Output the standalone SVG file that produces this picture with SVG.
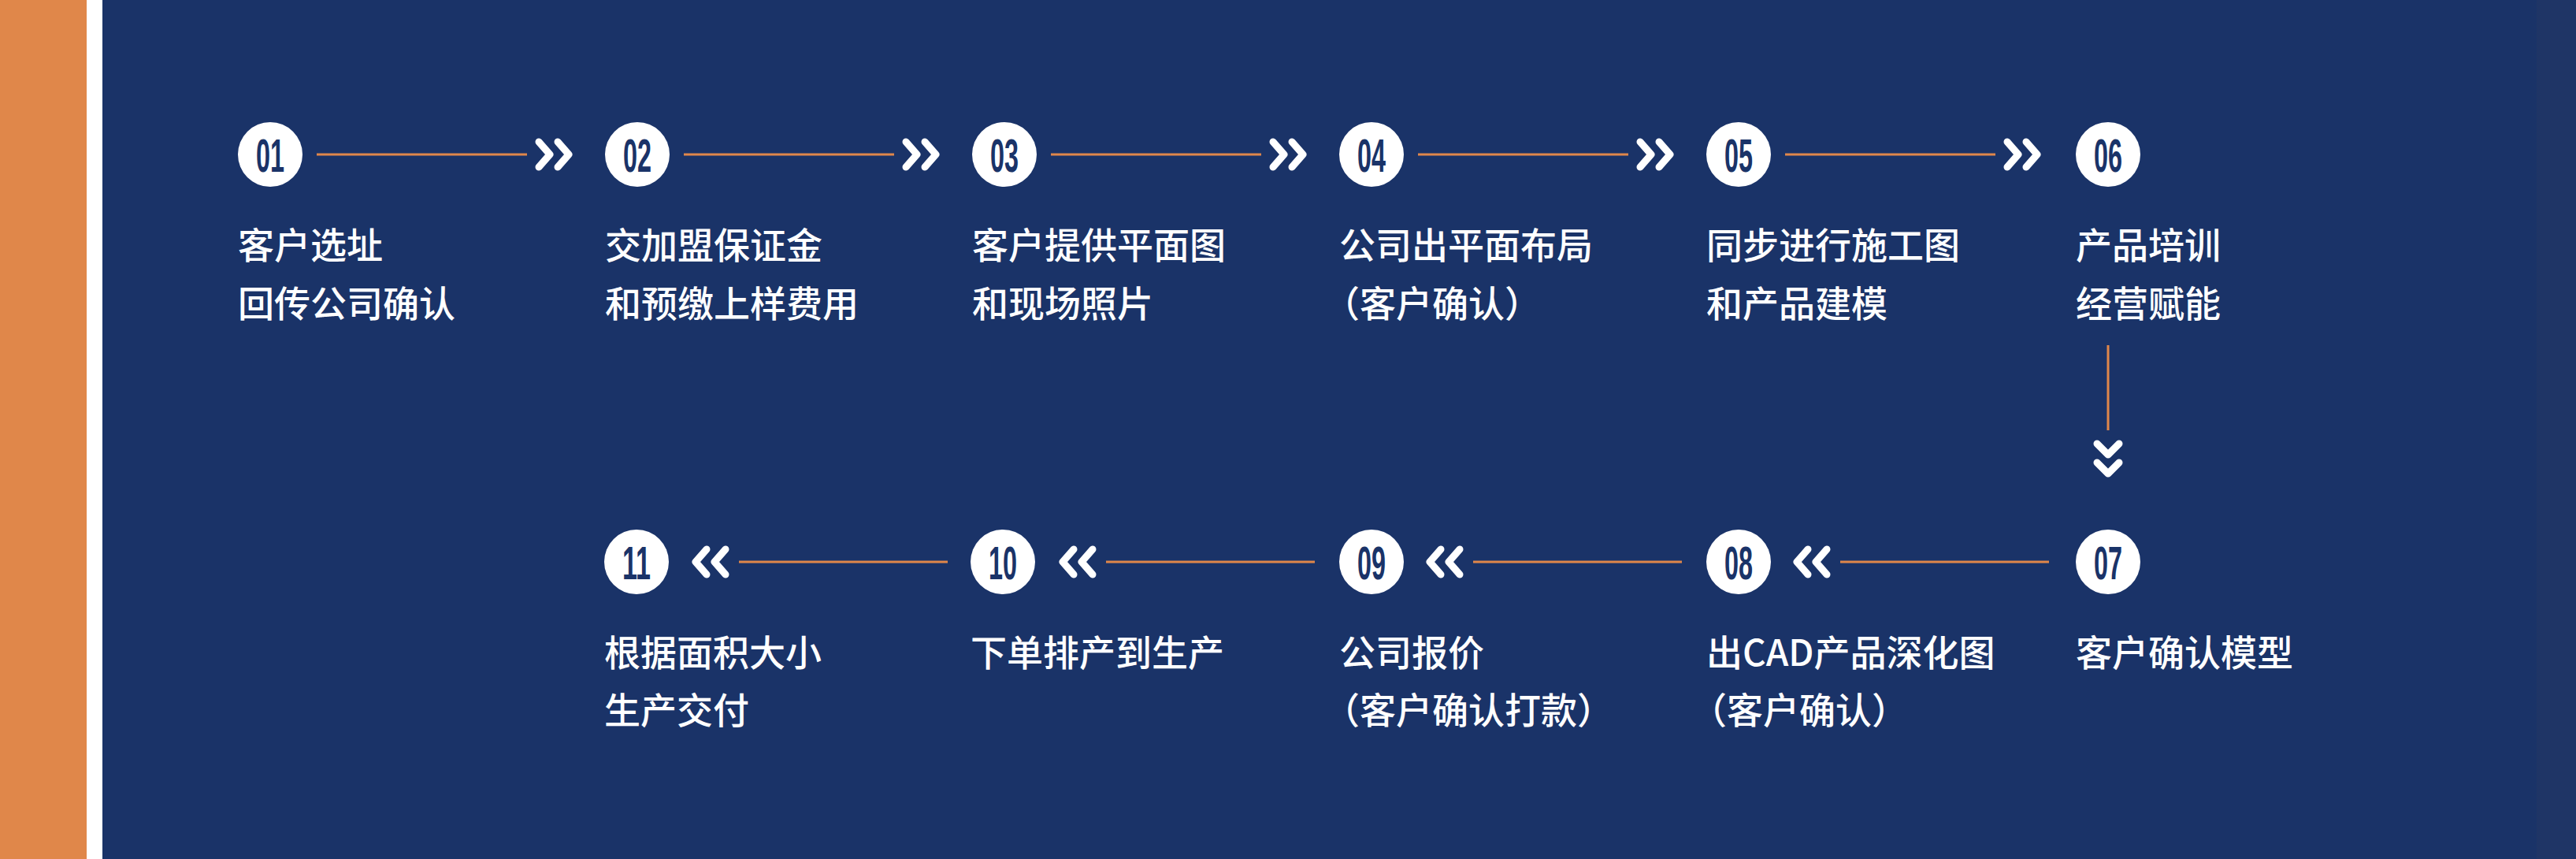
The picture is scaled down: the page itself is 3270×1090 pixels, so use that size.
<svg xmlns="http://www.w3.org/2000/svg" width="3270" height="1090" viewBox="0 0 3270 1090">
<style>
.num{font-family:"Liberation Sans",Arial,sans-serif;font-weight:bold;font-size:60px;fill:#1a3368;text-anchor:middle}
.lbl{font-family:"Noto Sans CJK SC","Noto Sans",sans-serif;font-weight:500;font-size:46px;fill:#ffffff}
.ln{stroke:#e0874a;stroke-width:3;fill:none}
.chev{stroke:#ffffff;stroke-width:9;fill:none;stroke-linecap:round;stroke-linejoin:round}
</style>
<defs>
<path id="cr" d="M3,-16 L17,0 L3,16 M27,-16 L41,0 L27,16"/>
<path id="cl" d="M44,-16 L30,0 L44,16 M20,-16 L6,0 L20,16"/>
</defs>
<rect width="3270" height="1090" fill="#1a3368"/>
<rect x="3220" width="50" height="1090" fill="#1f3566"/>
<rect width="110" height="1090" fill="#e0874a"/>
<rect x="110" width="20" height="1090" fill="#ffffff"/>
<g id="connectors">
<line class="ln" x1="402" y1="196" x2="669" y2="196"/><use href="#cr" class="chev" x="681" y="196"/>
<line class="ln" x1="868" y1="196" x2="1135" y2="196"/><use href="#cr" class="chev" x="1147" y="196"/>
<line class="ln" x1="1334" y1="196" x2="1601" y2="196"/><use href="#cr" class="chev" x="1613" y="196"/>
<line class="ln" x1="1800" y1="196" x2="2067" y2="196"/><use href="#cr" class="chev" x="2079" y="196"/>
<line class="ln" x1="2266" y1="196" x2="2533" y2="196"/><use href="#cr" class="chev" x="2545" y="196"/>
<line class="ln" x1="2676" y1="438" x2="2676" y2="546"/>
<path class="chev" d="M2662,563 L2676,577 L2690,563 M2662,587 L2676,601 L2690,587"/>
<use href="#cl" class="chev" x="2275" y="713"/><line class="ln" x1="2336" y1="713" x2="2601" y2="713"/>
<use href="#cl" class="chev" x="1809" y="713"/><line class="ln" x1="1870" y1="713" x2="2135" y2="713"/>
<use href="#cl" class="chev" x="1343" y="713"/><line class="ln" x1="1404" y1="713" x2="1669" y2="713"/>
<use href="#cl" class="chev" x="877" y="713"/><line class="ln" x1="938" y1="713" x2="1203" y2="713"/>
</g>
<g id="n01"><circle cx="343" cy="196" r="41" fill="#fff"/><text class="num" x="343" y="218" textLength="36" lengthAdjust="spacingAndGlyphs">01</text><text class="lbl" x="302" y="328">客户选址</text><text class="lbl" x="302" y="402">回传公司确认</text></g>
<g id="n02"><circle cx="809" cy="196" r="41" fill="#fff"/><text class="num" x="809" y="218" textLength="36" lengthAdjust="spacingAndGlyphs">02</text><text class="lbl" x="768" y="328">交加盟保证金</text><text class="lbl" x="768" y="402">和预缴上样费用</text></g>
<g id="n03"><circle cx="1275" cy="196" r="41" fill="#fff"/><text class="num" x="1275" y="218" textLength="36" lengthAdjust="spacingAndGlyphs">03</text><text class="lbl" x="1234" y="328">客户提供平面图</text><text class="lbl" x="1234" y="402">和现场照片</text></g>
<g id="n04"><circle cx="1741" cy="196" r="41" fill="#fff"/><text class="num" x="1741" y="218" textLength="36" lengthAdjust="spacingAndGlyphs">04</text><text class="lbl" x="1700" y="328">公司出平面布局</text><text class="lbl" x="1680" y="402">（客户确认）</text></g>
<g id="n05"><circle cx="2207" cy="196" r="41" fill="#fff"/><text class="num" x="2207" y="218" textLength="36" lengthAdjust="spacingAndGlyphs">05</text><text class="lbl" x="2166" y="328">同步进行施工图</text><text class="lbl" x="2166" y="402">和产品建模</text></g>
<g id="n06"><circle cx="2676" cy="196" r="41" fill="#fff"/><text class="num" x="2676" y="218" textLength="36" lengthAdjust="spacingAndGlyphs">06</text><text class="lbl" x="2635" y="328">产品培训</text><text class="lbl" x="2635" y="402">经营赋能</text></g>
<g id="n07"><circle cx="2676" cy="713" r="41" fill="#fff"/><text class="num" x="2676" y="735" textLength="36" lengthAdjust="spacingAndGlyphs">07</text><text class="lbl" x="2635" y="845">客户确认模型</text></g>
<g id="n08"><circle cx="2207" cy="713" r="41" fill="#fff"/><text class="num" x="2207" y="735" textLength="36" lengthAdjust="spacingAndGlyphs">08</text><text class="lbl" x="2166" y="845">出CAD产品深化图</text><text class="lbl" x="2146" y="918">（客户确认）</text></g>
<g id="n09"><circle cx="1741" cy="713" r="41" fill="#fff"/><text class="num" x="1741" y="735" textLength="36" lengthAdjust="spacingAndGlyphs">09</text><text class="lbl" x="1700" y="845">公司报价</text><text class="lbl" x="1680" y="918">（客户确认打款）</text></g>
<g id="n10"><circle cx="1273" cy="713" r="41" fill="#fff"/><text class="num" x="1273" y="735" textLength="36" lengthAdjust="spacingAndGlyphs">10</text><text class="lbl" x="1232" y="845">下单排产到生产</text></g>
<g id="n11"><circle cx="808" cy="713" r="41" fill="#fff"/><text class="num" x="808" y="735" textLength="36" lengthAdjust="spacingAndGlyphs">11</text><text class="lbl" x="767" y="845">根据面积大小</text><text class="lbl" x="767" y="918">生产交付</text></g>
</svg>
